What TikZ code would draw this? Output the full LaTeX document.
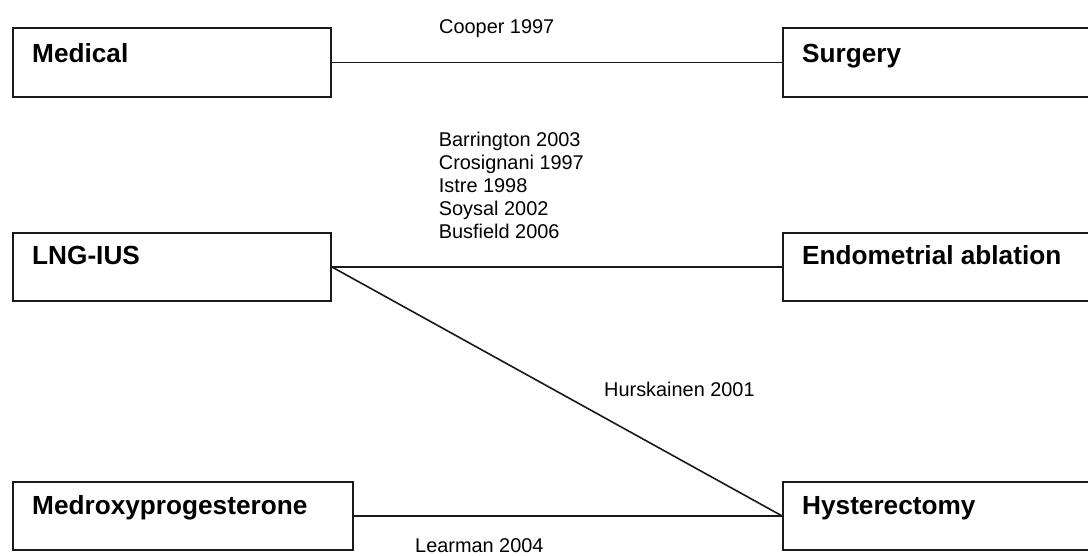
\documentclass[tikz,border=0pt]{standalone}
\usepackage{fontspec}
\setmainfont{Liberation Sans}
\begin{document}
\begin{tikzpicture}[x=1pt,y=-1pt,
  boxstyle/.style={draw=black!90,line width=1.8pt,rectangle,inner sep=0pt,anchor=north west},
  title/.style={font=\fontsize{26.2}{30}\selectfont\bfseries,anchor=base west,inner sep=0pt},
  ref/.style={font=\fontsize{19.9}{23}\selectfont,anchor=base west,inner sep=0pt},
  conn/.style={draw=black!90,line width=1.6pt}]
\useasboundingbox (0,0) rectangle (1088,555);
\clip (0,0) rectangle (1088,555);
% boxes
\node[boxstyle,minimum width=318pt,minimum height=69pt] (medical) at (12,27) {};
\node[boxstyle,minimum width=330pt,minimum height=69pt] (surgery) at (782,27) {};
\node[boxstyle,minimum width=318pt,minimum height=68pt] (lng) at (12,232) {};
\node[boxstyle,minimum width=330pt,minimum height=68pt] (endo) at (782,232) {};
\node[boxstyle,minimum width=340pt,minimum height=68pt] (medroxy) at (12,481) {};
\node[boxstyle,minimum width=330pt,minimum height=68pt] (hyst) at (782,481) {};
% titles
\node[title] (tmedical) at (32,62) {Medical};
\node[title] (tsurgery) at (802,62) {Surgery};
\node[title] (tlng) at (32,264.5) {LNG-IUS};
\node[title] (tendo) at (802,264.5) {Endometrial ablation};
\node[title] (tmedroxy) at (32,514) {Medroxyprogesterone};
\node[title] (thyst) at (802,514) {Hysterectomy};
% connectors
\draw[conn] (medical.east) -- (surgery.west);
\draw[conn] (lng.east) -- (endo.west);
\draw[conn] (lng.east) -- (hyst.west);
\draw[conn] (medroxy.east) -- (hyst.west);
% references
\node[ref] (cooper) at (439,33.3) {Cooper 1997};
\node[ref] (r1) at (438.7,146.7) {Barrington 2003};
\node[ref] (r2) at (438.7,169.5) {Crosignani 1997};
\node[ref] (r3) at (438.7,192.5) {Istre 1998};
\node[ref] (r4) at (438.7,215.3) {Soysal 2002};
\node[ref] (r5) at (438.7,238.2) {Busfield 2006};
\node[ref] (hurs) at (604,396) {Hurskainen 2001};
\node[ref] (learman) at (415,552.5) {Learman 2004};
\end{tikzpicture}
\end{document}
